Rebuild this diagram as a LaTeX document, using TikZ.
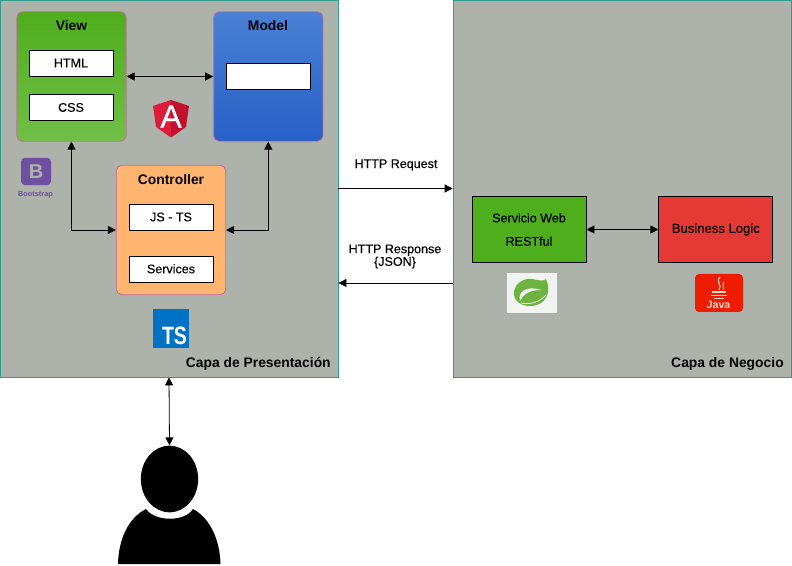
\documentclass[tikz,border=0pt]{standalone}
\usepackage{fontspec}
\setmainfont{Liberation Sans}
\newfontfamily\midfont[FakeBold=0.3]{Liberation Sans}
\usetikzlibrary{positioning, arrows.meta, shapes.geometric, calc}
\definecolor{cLayer}{HTML}{ADB2AA}
\definecolor{cLayerEdge}{HTML}{2F9C8C}
\definecolor{cPink}{HTML}{C66CA0}
\definecolor{cGreenA}{HTML}{4FAE1C}
\definecolor{cGreenB}{HTML}{70BF48}
\definecolor{cBlueA}{HTML}{4A80D4}
\definecolor{cBlueB}{HTML}{2760C8}
\definecolor{cOrange}{HTML}{FFB570}
\definecolor{cRed}{HTML}{E53935}
\definecolor{cAngularA}{HTML}{DD1B3A}
\definecolor{cAngularB}{HTML}{C3102F}
\definecolor{cTS}{HTML}{0072C6}
\definecolor{cBoot}{HTML}{6F4F9F}
\definecolor{cSpring}{HTML}{6DB33F}
\definecolor{cSpringBg}{HTML}{F2F4F2}
\definecolor{cJava}{HTML}{EE1C00}
\definecolor{cJavaInk}{HTML}{FBD9CF}
\tikzset{
  layerbox/.style={
    draw=cLayerEdge, line width=0.6pt,
    fill=cLayer,
    inner sep=0pt,
    minimum width=253.5pt,
    minimum height=282.75pt
  },
  mvcbox/.style={
    draw=cPink, line width=0.6pt,
    rounded corners=4pt,
    inner sep=0pt,
    minimum width=82pt,
    minimum height=97pt
  },
  itembox/.style={
    draw=black, line width=0.6pt,
    fill=white,
    inner sep=0pt,
    minimum width=63pt,
    minimum height=19.5pt,
    font=\midfont\fontsize{9.4}{10}\selectfont
  },
  logicbox/.style={
    draw=black, line width=0.6pt,
    inner sep=0pt,
    align=center,
    minimum width=85.5pt,
    minimum height=49pt,
    font=\midfont\fontsize{9.4}{10}\selectfont
  },
  boxtitle/.style={
    font=\fontsize{10.4}{12}\selectfont\bfseries,
    inner sep=0pt
  },
  layertitle/.style={
    font=\fontsize{10.4}{12}\selectfont\bfseries,
    inner sep=0pt,
    anchor=east
  },
  msg/.style={
    font=\midfont\fontsize{9.4}{9.5}\selectfont,
    align=center,
    inner sep=0pt
  },
  link/.style={
    -{Triangle[length=6pt,width=6pt]},
    line width=0.6pt,
    draw=black
  },
  bilink/.style={
    {Triangle[length=6pt,width=6pt]}-{Triangle[length=6pt,width=6pt]},
    line width=0.6pt,
    draw=black
  }
}

\begin{document}
\begin{tikzpicture}[x=0.75pt,y=-0.75pt]
  \useasboundingbox (0,0) rectangle (792,566);

  % layers
  \node[layerbox] (presentacion) at (169,188.5) {};
  \node[layerbox] (negocio) at (622,188.5) {};
  \node[layertitle] (presentacionTitle) at (331,364) {Capa de Presentación};
  \node[layertitle] (negocioTitle) at (784,364) {Capa de Negocio};

  % MVC boxes
  \node[mvcbox, top color=cGreenA, bottom color=cGreenB] (view) at (71.5,76.5) {};
  \node[mvcbox, top color=cBlueA, bottom color=cBlueB, right=65pt of view] (model) {};
  \node[mvcbox, fill=cOrange] (controller) at (171,230) {};

  \node[boxtitle] (viewTitle) at (71.5,26) {View};
  \node[boxtitle] (modelTitle) at (268,26) {Model};
  \node[boxtitle] (controllerTitle) at (171,180) {Controller};

  \node[itembox] (html) at (71,63) {HTML};
  \node[itembox, below=13.5pt of html] (css) {\raisebox{0.6pt}{CSS}};
  \node[itembox] (modelItem) at (268,76) {};
  \node[itembox] (js) at (171,217) {JS - TS};
  \node[itembox, below=19pt of js] (services) {\raisebox{0.6pt}{Services}};

  \draw[bilink] (view) -- (model);
  \draw[bilink] (view.south) |- (controller.west);
  \draw[bilink] (model.south) |- (controller.east);

  % business layer
  \node[logicbox, fill=cGreenA] (rest) at (529,229.5) {Servicio Web\\[7.5pt]RESTful};
  \node[logicbox, fill=cRed, right=54pt of rest, font=\midfont\fontsize{9.8}{10}\selectfont] (logic) {\raisebox{-0.7pt}{Business Logic}};
  \draw[bilink] (rest) -- (logic);

  % messages
  \coordinate (respFrom) at (negocio.west |- 0,283);
  \coordinate (respTo) at (presentacion.east |- 0,283);
  \draw[link] (presentacion) -- (negocio);
  \draw[link] (respFrom) -- (respTo);
  \node[msg] (reqLabel) at (396,165) {HTTP Request};
  \node[msg] (respLabel) at (395,256.5) {HTTP Response\\\{JSON\}};

  % logos
  \fill[cAngularA] (171,100) -- (153,106) -- (156,127) -- (171,137.5) -- cycle;
  \fill[cAngularB] (171,100) -- (189,106) -- (186,127) -- (171,137.5) -- cycle;
  \node[font=\midfont\fontsize{24}{24}\selectfont, text=white, inner sep=0pt] (angular) at (171,116.5) {A};

  \node[fill=cTS, minimum width=27pt, minimum height=29pt, inner sep=0pt] (tsLogo) at (171,328.5) {};
  \node[font=\fontsize{18.8}{19}\selectfont\bfseries, text=white, inner sep=0pt, xscale=0.78] (tsText) at (174.5,336) {TS};

  \node[fill=cBoot, rounded corners=3pt, minimum width=22.5pt, minimum height=20.5pt, inner sep=0pt,
        text=cLayer, font=\fontsize{15}{15}\selectfont\bfseries] (bootLogo) at (36,171.5) {B};
  \node[font=\fontsize{5.5}{6}\selectfont\bfseries, text=cBoot, inner sep=0pt] (bootText) at (35.5,194.5) {Bootstrap};

  \node[fill=cSpringBg, minimum width=37.5pt, minimum height=30pt, inner sep=0pt] (springLogo) at (532,293) {};
  \fill[cSpring] (546,279) .. controls (552,292) and (546,306) .. (530,306)
    .. controls (520,306) and (513,300) .. (514,292) .. controls (515,283) and (524,278) .. (532,279)
    .. controls (538,280) and (543,282) .. cycle;
  \fill[cSpringBg] (520,301) .. controls (517,292) and (527,285) .. (541,290)
    .. controls (531,290) and (524,293) .. cycle;
  \draw[cSpringBg, line width=0.6pt] (521,303) .. controls (530,305) and (540,302) .. (546,295);

  \node[fill=cJava, rounded corners=3pt, minimum width=36pt, minimum height=28.5pt, inner sep=0pt] (javaLogo) at (719,293) {};
  \draw[cJavaInk, line width=0.8pt] (720,277) .. controls (715,282) and (723,285) .. (719,290);
  \draw[cJavaInk, line width=0.6pt] (724,282) .. controls (721,285) and (725,287) .. (723,290);
  \draw[cJavaInk, line width=0.8pt] (712,292) -- (726,292) (711,295.5) -- (727,295.5) (714,298.5) -- (724,298.5);
  \node[font=\fontsize{8}{8}\selectfont\bfseries, text=cJavaInk, inner sep=0pt] (javaText) at (718.5,304.5) {Java};

  % user
  \node[ellipse, fill=black, minimum width=43pt, minimum height=50pt, inner sep=0pt] (head) at (169.5,479) {};
  \fill[black] (146,509) .. controls (155,522) and (185,522) .. (193,509)
    .. controls (210,518) and (220,540) .. (220.5,564) -- (118,564)
    .. controls (118.5,540) and (128,518) .. cycle;
  \draw[bilink] (presentacion.south) -- (head.north);
\end{tikzpicture}
\end{document}
